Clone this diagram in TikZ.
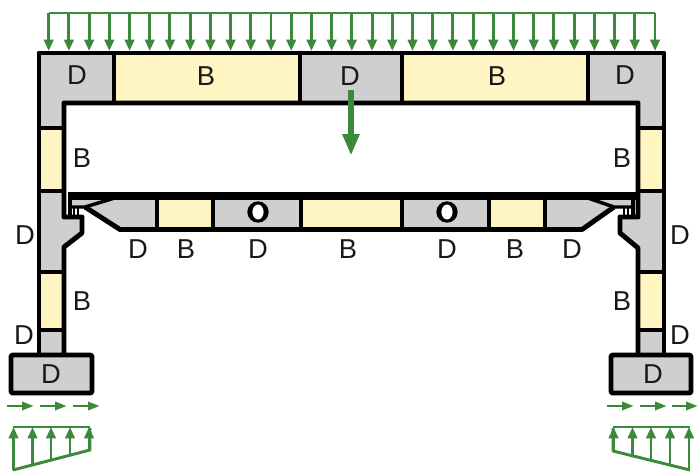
\documentclass[tikz,border=0pt]{standalone}
\usepackage{fontspec}
\setmainfont{Liberation Sans}
\usetikzlibrary{arrows.meta}
\definecolor{dgray}{HTML}{CFCFCF}
\definecolor{byellow}{HTML}{FFF5C2}
\definecolor{lgreen}{HTML}{3B8A3B}
\tikzset{
  dzone/.style={fill=dgray,draw=none},
  bzone/.style={fill=byellow,draw=none},
  wall/.style={draw=black,line width=3.7pt,line join=round},
  thinwall/.style={draw=black,line width=2.6pt,line join=miter},
  lab/.style={font=\fontsize{20.5}{20.5}\selectfont,inner sep=0pt,text=black!90},
  load/.style={draw=lgreen,line width=2.2pt,-{Triangle[width=7pt,length=8.5pt]}},
  loadline/.style={draw=lgreen,line width=2.2pt,line join=round},
}
\begin{document}
\begin{tikzpicture}[x=0.75pt,y=-0.75pt]
\useasboundingbox (0,0) rectangle (698,471);
% fills: top frame and columns
\fill[dzone] (39,53) -- (114,53) -- (114,103) -- (64,103) -- (64,128) -- (39,128) -- cycle;
\fill[bzone] (114,53) rectangle (300,103);
\fill[dzone] (300,53) rectangle (402,103);
\fill[bzone] (402,53) rectangle (588,103);
\fill[dzone] (588,53) -- (664,53) -- (664,128) -- (638,128) -- (638,103) -- (588,103) -- cycle;
\fill[bzone] (39,128) rectangle (64,191);
\fill[bzone] (638,128) rectangle (664,191);
\fill[dzone] (39,191) -- (64,191) -- (64,217) -- (82,217) -- (82,233) -- (64,247) -- (64,272) -- (39,272) -- cycle;
\fill[dzone] (664,191) -- (638,191) -- (638,217) -- (620,217) -- (620,233) -- (638,248) -- (638,272) -- (664,272) -- cycle;
\fill[bzone] (39,272) rectangle (64,330);
\fill[bzone] (638,272) rectangle (664,330);
\fill[dzone] (39,330) rectangle (64,355);
\fill[dzone] (638,330) rectangle (664,355);
\fill[dzone] (11,355) rectangle (92,393);
\fill[dzone] (611,355) rectangle (691,393);
% lower beam fills
\fill[dzone] (70,197) -- (118,197) -- (85,207) -- (70,207) -- cycle;
\fill[dzone] (632,197) -- (585,197) -- (614,207) -- (632,207) -- cycle;
\fill[dzone] (85,207) -- (118,197) -- (157,197) -- (157,229) -- (120,229) -- cycle;
\fill[bzone] (157,197) rectangle (213,229);
\fill[dzone] (213,197) rectangle (301,229);
\fill[bzone] (301,197) rectangle (402,229);
\fill[dzone] (402,197) rectangle (489,229);
\fill[bzone] (489,197) rectangle (545,229);
\fill[dzone] (545,197) -- (585,197) -- (614,207) -- (582,229) -- (545,229) -- cycle;
% frame outlines
\draw[wall] (39,355) -- (39,53) -- (664,53) -- (664,355);
\draw[wall] (64,355) -- (64,247) -- (82,233) -- (82,217) -- (64,217) -- (64,103) -- (638,103) -- (638,217) -- (620,217) -- (620,233) -- (638,248) -- (638,355);
\draw[wall] (114,53) -- (114,103) (300,53) -- (300,103) (402,53) -- (402,103) (588,53) -- (588,103);
\draw[wall] (39,128) -- (64,128) (39,191) -- (64,191) (39,272) -- (64,272) (39,330) -- (64,330);
\draw[wall] (638,128) -- (664,128) (638,191) -- (664,191) (638,272) -- (664,272) (638,330) -- (664,330);
\draw[wall,rounded corners=1.5pt] (11,355) rectangle (92,393);
\draw[wall,rounded corners=1.5pt] (611,355) rectangle (691,393);
% lower beam outlines
\draw[draw=black,line width=6pt] (68,196) -- (636,196);
\draw[thinwall] (70,192) -- (70,215) (633,192) -- (633,215);
\draw[thinwall] (70,207) -- (85,207) -- (118,197);
\draw[thinwall] (633,207) -- (614,207) -- (585,197);
\draw[wall] (85,207) -- (120,229.5) -- (582,229.5) -- (614,207);
\draw[draw=black,line width=1.2pt] (74,207) -- (74,216) (78,207) -- (78,216);
\draw[draw=black,line width=1.2pt] (628,207) -- (628,216) (624,207) -- (624,216);
\draw[wall] (157,197) -- (157,229) (213,197) -- (213,229) (301,197) -- (301,229) (402,197) -- (402,229) (489,197) -- (489,229) (545,197) -- (545,229);
% ducts
\fill[black] (258,212) circle (8pt);
\fill[white] (258,212) ellipse (4.2pt and 5.6pt);
\fill[black] (447,212) circle (8pt);
\fill[white] (447,212) ellipse (4.2pt and 5.6pt);
% top load
\draw[loadline] (48.7,13) -- (655,13);
\foreach \i in {0,...,30}{
  \draw[load] ({48.7+20.21*\i},13) -- ({48.7+20.21*\i},51);
}
% central load
\draw[draw=lgreen,line width=4pt,-{Triangle[width=12pt,length=16pt]}] (351,90) -- (351,155.5);
% horizontal arrows
\foreach \a/\b in {7/34,40/67,73/100,607/634,640/667,672/698}{
  \draw[load,-{Triangle[width=6pt,length=9pt]}] (\a,406) -- (\b,406);
}
% base pressure, left
\draw[loadline] (13,470) -- (90,450) -- (90,428);
\draw[loadline] (13,427) -- (90,427);
\draw[load] (13.5,470) -- (13.5,427);
\draw[load] (32.5,465) -- (32.5,427);
\draw[load] (51,460) -- (51,427);
\draw[load] (70,455) -- (70,427);
\draw[load] (89,450) -- (89,427);
% base pressure, right
\draw[loadline] (690,470) -- (613,451) -- (613,428);
\draw[loadline] (613,427) -- (690,427);
\draw[load] (613.5,451) -- (613.5,427);
\draw[load] (632.5,456) -- (632.5,427);
\draw[load] (651,460) -- (651,427);
\draw[load] (670,465) -- (670,427);
\draw[load] (689,470) -- (689,427);
% labels
\node[lab] (d1) at (77,75) {D};
\node[lab] (b1) at (206,76) {B};
\node[lab] (d2) at (350,76) {D};
\node[lab] (b2) at (497,76) {B};
\node[lab] (d3) at (625,75) {D};
\node[lab] (b3) at (82,158) {B};
\node[lab] (b4) at (622,158) {B};
\node[lab] (d4) at (25,235) {D};
\node[lab] (d5) at (680,235) {D};
\node[lab] (d6) at (138,249.5) {D};
\node[lab] (b5) at (186,249.5) {B};
\node[lab] (d7) at (258,249.5) {D};
\node[lab] (b6) at (348,249.5) {B};
\node[lab] (d8) at (447,249.5) {D};
\node[lab] (b7) at (515,249.5) {B};
\node[lab] (d9) at (572,249.5) {D};
\node[lab] (b8) at (82,301) {B};
\node[lab] (b9) at (622,301) {B};
\node[lab] (d10) at (24,335) {D};
\node[lab] (d11) at (680,335) {D};
\node[lab] (d12) at (51,374.5) {D};
\node[lab] (d13) at (653,374.5) {D};
\end{tikzpicture}
\end{document}
